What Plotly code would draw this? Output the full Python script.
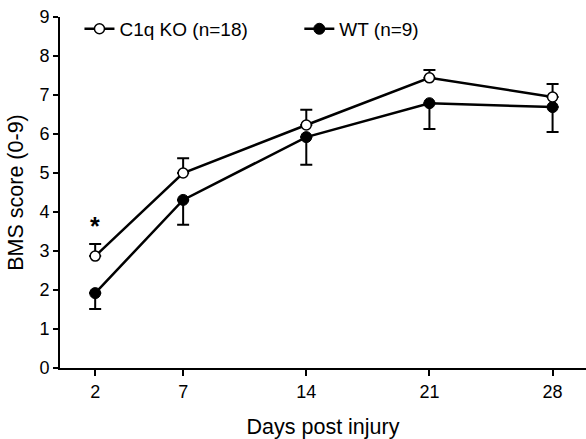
import plotly.graph_objects as go

days = [2, 7, 14, 21, 28]
ko_mean = [2.87, 5.00, 6.23, 7.44, 6.95]
ko_sem = [0.31, 0.38, 0.39, 0.20, 0.33]
wt_mean = [1.92, 4.31, 5.92, 6.79, 6.69]
wt_sem = [0.41, 0.64, 0.71, 0.66, 0.64]
ko_name = "C1q KO (n=18)"
wt_name = "WT (n=9)"
y_ticks = list(range(0, 10))
sig_day_index = 0

FONT = "Arial, Liberation Sans, Helvetica, sans-serif"
zeros = [0] * len(days)

fig = go.Figure()
fig.add_trace(go.Scatter(
    x=days, y=wt_mean, mode="lines+markers", name=wt_name,
    line=dict(color="black", width=2.5),
    marker=dict(symbol="circle", size=11, color="black", line=dict(color="black", width=1)),
    error_y=dict(type="data", symmetric=False, array=zeros, arrayminus=wt_sem,
                 color="black", thickness=2, width=6),
    legend="legend2",
))
fig.add_trace(go.Scatter(
    x=days, y=ko_mean, mode="lines+markers", name=ko_name,
    line=dict(color="black", width=2.5),
    marker=dict(symbol="circle", size=10, color="white", line=dict(color="black", width=1.5)),
    error_y=dict(type="data", symmetric=False, array=ko_sem, arrayminus=zeros,
                 color="black", thickness=2, width=6),
    legend="legend",
))

star_y = ko_mean[sig_day_index] + ko_sem[sig_day_index] + 0.45
fig.add_annotation(x=days[sig_day_index], y=star_y, text="<b>*</b>", showarrow=False,
                   font=dict(family=FONT, size=25, color="black"), yanchor="middle")

fig.update_layout(
    width=586, height=439,
    margin=dict(l=60, r=0, t=17, b=71),
    paper_bgcolor="white", plot_bgcolor="white",
    font=dict(family=FONT, color="black"),
    showlegend=True,
    legend=dict(x=0.037, y=0.966, xanchor="left", yanchor="middle", orientation="h",
                font=dict(family=FONT, size=19, color="black"), bgcolor="rgba(0,0,0,0)",
                itemwidth=30),
    legend2=dict(x=0.455, y=0.966, xanchor="left", yanchor="middle", orientation="h",
                 font=dict(family=FONT, size=19, color="black"), bgcolor="rgba(0,0,0,0)",
                 itemwidth=30),
    xaxis=dict(range=[0, 29.9], tickvals=days, ticktext=[str(d) for d in days],
               ticks="outside", ticklen=6, tickwidth=2, tickcolor="black",
               showline=True, linewidth=2, linecolor="black", showgrid=False, zeroline=False,
               tickfont=dict(family=FONT, size=18, color="black"),
               title=dict(text="Days post injury", font=dict(family=FONT, size=21.5, color="black"),
                          standoff=18)),
    yaxis=dict(range=[0, 9], tickvals=y_ticks, ticks="outside", ticklen=5, tickwidth=2,
               tickcolor="black", showline=True, linewidth=2, linecolor="black",
               showgrid=False, zeroline=False,
               tickfont=dict(family=FONT, size=18, color="black"),
               title=dict(text="BMS score (0-9)", font=dict(family=FONT, size=21.5, color="black"),
                          standoff=10)),
)

fig.write_html("out.html")
